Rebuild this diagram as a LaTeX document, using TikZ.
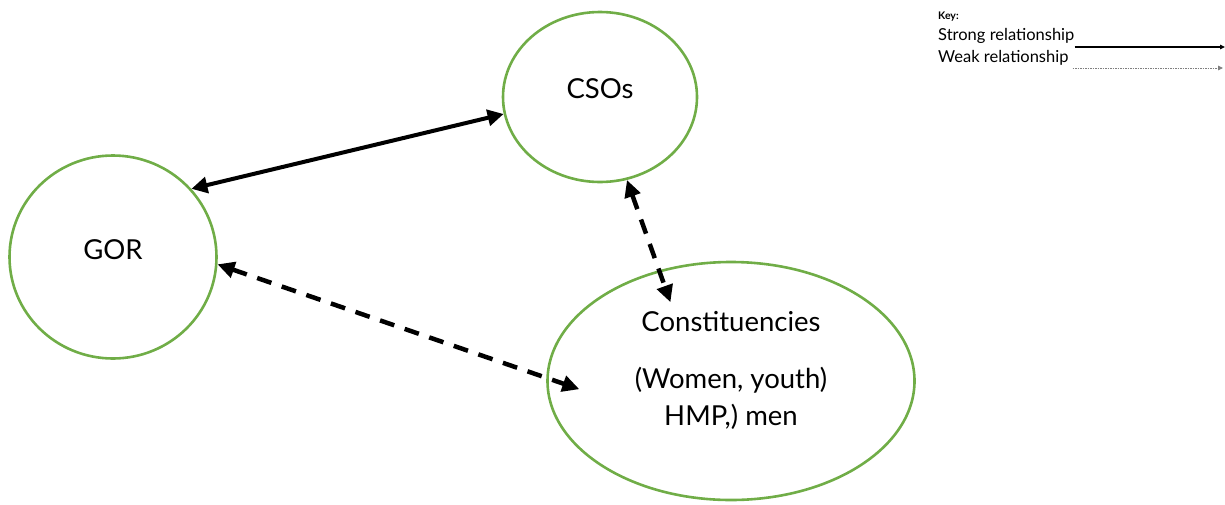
\documentclass[tikz,border=0pt]{standalone}
\usepackage{fontspec}
\setmainfont{Lato}
\usepackage{tikz}
\usetikzlibrary{arrows.meta,shapes.geometric}
\definecolor{ringgreen}{HTML}{70AD47}
\definecolor{keygray}{HTML}{7F7F7F}

\begin{document}
\begin{tikzpicture}[x=1pt,y=-1pt,
    actor/.style={draw=ringgreen,line width=2.6pt,ellipse,inner sep=0pt},
    strongrel/.style={line width=4pt,{Triangle[length=16pt,width=16pt]}-{Triangle[length=16pt,width=16pt]}},
    weakrel/.style={line width=4.5pt,dash pattern=on 15pt off 11pt,{Triangle[length=17pt,width=16pt]}-{Triangle[length=17pt,width=16pt]}},
    lbl/.style={font=\fontsize{27.5}{37}\selectfont,align=center,inner sep=0pt}]
  \useasboundingbox (0,0) rectangle (1225,504);
  % actors
  \node[actor,minimum width=207pt,minimum height=203pt] (gor) at (113,257) {};
  \node[actor,minimum width=194pt,minimum height=170pt] (csos) at (600,97) {};
  \node[actor,minimum width=367pt,minimum height=238pt] (const) at (731,381) {};
  \node[lbl] (gortext) at (113,250) {GOR};
  \node[lbl] (csostext) at (600,89) {CSOs};
  \node[lbl] (consttext) at (731,322) {Constituencies};
  \node[lbl] (groups) at (731,398) {(Women, youth)\\HMP,) men};
  % relationships
  \draw[strongrel] (gor.41) -- (csos.190);
  \draw[weakrel,shorten >=-35pt] (gor.-4) -- (const.179);
  \draw[weakrel,shorten >=-34pt] (csos.-72) -- (const.123);
  % key
  \node[font=\fontsize{10.5}{12}\selectfont\bfseries,anchor=base west,inner sep=0pt] (keyhead) at (938,19) {Key:};
  \node[font=\fontsize{16.5}{18}\selectfont,anchor=base west,inner sep=0pt] (strong) at (938,40) {Strong relationship};
  \node[font=\fontsize{16.5}{18}\selectfont,anchor=base west,inner sep=0pt] (weak) at (938,62) {Weak relationship};
  \coordinate (strongend) at (1225,47);
  \coordinate (weakend) at (1223,68);
  \draw[line width=1.1pt,-{Triangle[length=5pt,width=4.5pt]}] (strong.south east |- strongend) -- (strongend);
  \draw[keygray,line width=0.8pt,dash pattern=on 1.5pt off 1pt,-{Triangle[length=5pt,width=4.5pt]}] ([xshift=4pt]weak.south east |- weakend) -- (weakend);
\end{tikzpicture}
\end{document}
